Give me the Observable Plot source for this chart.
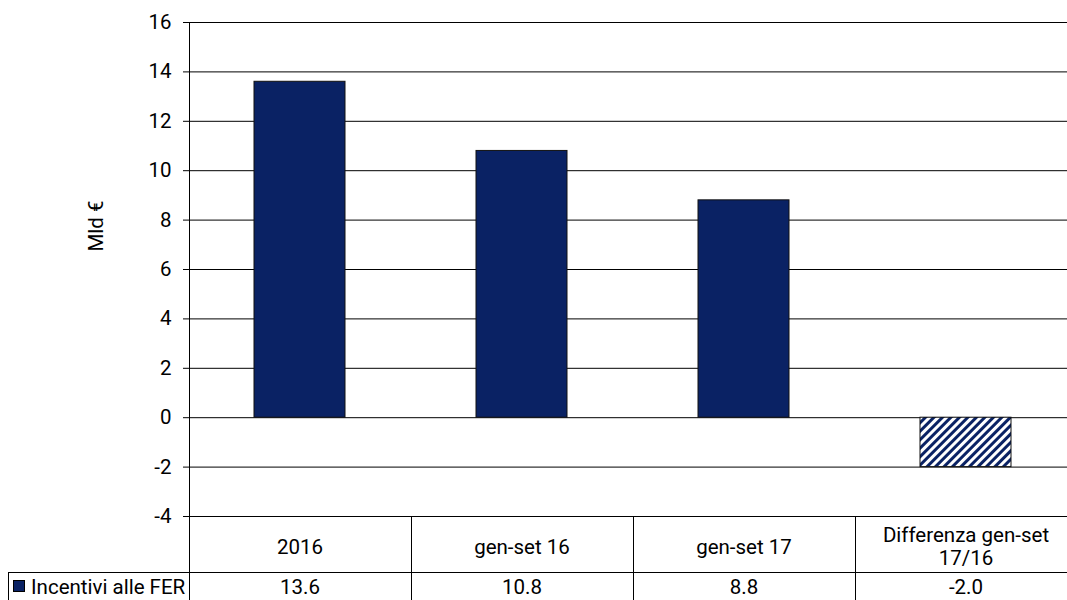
<!DOCTYPE html>
<html>
<head>
<meta charset="utf-8">
<script src="https://cdn.jsdelivr.net/npm/d3@7"></script>
<script src="https://cdn.jsdelivr.net/npm/@observablehq/plot@0.6"></script>
<style>
  html, body { margin: 0; padding: 0; background: white; overflow: hidden; }
  #chart svg { overflow: hidden; }
</style>
</head>
<body>
<div id="chart"></div>
<script>
const categories = ["2016", "gen-set 16", "gen-set 17", "Differenza gen-set 17/16"];
const categoryLabels = ["2016", "gen-set 16", "gen-set 17", "Differenza gen-set\n17/16"];
const values = [13.6, 10.8, 8.8, -2.0];
const isDifference = [false, false, false, true];
const seriesName = "Incentivi alle FER";
const yTicks = [-4, -2, 0, 2, 4, 6, 8, 10, 12, 14, 16];
const yLabel = "Mld €";

const navy = "#0a2264";
const FS = 20.5;
const data = categories.map((c, i) => ({cat: c, label: categoryLabels[i], value: values[i], diff: isDifference[i]}));
const yMin = d3.min(yTicks), yMax = d3.max(yTicks);

const chart = Plot.plot({
  width: 1067,
  height: 600,
  marginTop: 22,
  marginBottom: 84,
  marginLeft: 189,
  marginRight: 0,
  style: {fontFamily: "Roboto", fontSize: FS + "px", color: "black", background: "white"},
  x: {domain: categories, range: [189, 1077], paddingInner: 0.59, paddingOuter: 0.295, axis: null},
  y: {domain: [yMin, yMax], range: [516, 22], axis: null},
  marks: [
    Plot.ruleY(yTicks, {stroke: "black", strokeWidth: 1}),
    Plot.barY(data, {x: "cat", y1: 0, y2: "value", fill: d => d.diff ? "url(#hatch)" : navy, stroke: "#111", strokeWidth: 1}),
    Plot.axisY({ticks: yTicks, tickSize: 6, tickPadding: 12, label: null, tickFormat: d => d.toString(), fontSize: FS, stroke: "black", strokeOpacity: 1}),
    Plot.text(data, {x: "cat", y: () => yMin, dy: 30, text: "label", lineHeight: 1.12, fontSize: FS, fill: "black"}),
    Plot.text(data, {x: "cat", y: () => yMin, dy: 71, text: d => d.value.toFixed(1), fontSize: FS, fill: "black"})
  ]
});

document.getElementById("chart").appendChild(chart);

const svg = d3.select(chart);
const xs = chart.scale("x");
const defs = svg.insert("defs", ":first-child");
const pat = defs.append("pattern")
  .attr("id", "hatch").attr("patternUnits", "userSpaceOnUse")
  .attr("width", 6).attr("height", 6)
  .attr("patternTransform", "rotate(45)");
pat.append("rect").attr("width", 6).attr("height", 6).attr("fill", "white");
pat.append("rect").attr("width", 3).attr("height", 6).attr("fill", navy);

const g = svg.append("g").attr("stroke", "black").attr("stroke-width", 1);
// y-axis line extending down through the table
g.append("line").attr("x1", 189.5).attr("x2", 189.5).attr("y1", 22).attr("y2", 600);
// table row divider
g.append("line").attr("x1", 8).attr("x2", 1067).attr("y1", 572.5).attr("y2", 572.5);
// column separators
const step = (xs.range[1] - xs.range[0]) / categories.length;
for (let k = 1; k < categories.length; k++) {
  const xv = Math.round(xs.range[0] + k * step) + 0.5;
  g.append("line").attr("x1", xv).attr("x2", xv).attr("y1", 516).attr("y2", 600);
}
// legend cell
g.append("line").attr("x1", 8.5).attr("x2", 8.5).attr("y1", 572.5).attr("y2", 600);
svg.append("rect").attr("x", 13.5).attr("y", 580.5).attr("width", 11).attr("height", 11)
  .attr("fill", navy).attr("stroke", "black").attr("stroke-width", 1);
svg.append("text").attr("x", 31).attr("y", 587).attr("dy", "0.35em").attr("text-anchor", "start")
  .attr("font-family", "Roboto").attr("font-size", FS).attr("fill", "black").text(seriesName);
// y label
svg.append("text").attr("transform", "translate(96,226) rotate(-90)")
  .attr("text-anchor", "middle").attr("dy", "0.35em")
  .attr("font-family", "Roboto").attr("font-size", FS).attr("fill", "black").text(yLabel);
</script>
</body>
</html>
